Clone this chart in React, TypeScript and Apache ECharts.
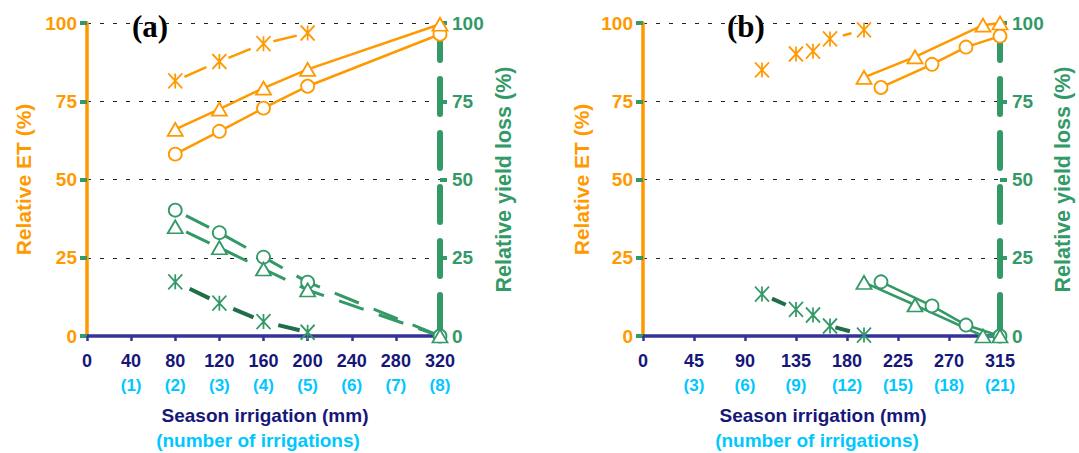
import React, { useEffect, useRef } from "react";
import * as echarts from "echarts";

// ---------- data ----------
// Panel (a)
const xTicksA = [0, 40, 80, 120, 160, 200, 240, 280, 320];
const irrigationsA = ["", "(1)", "(2)", "(3)", "(4)", "(5)", "(6)", "(7)", "(8)"];
const xA = [80, 120, 160, 200, 320];
const etCircleA = [58.1, 65.4, 72.8, 79.8, 96.4];
const etTriA = [66.0, 72.5, 79.2, 85.2, 99.6];
const xStarA = [80, 120, 160, 200];
const etStarA = [81.5, 87.7, 93.4, 96.8];
const lossCircleA = [40.2, 33.0, 25.2, 17.2, 0];
const lossTriA = [34.9, 28.2, 21.4, 14.7, 0];
const lossStarA = [17.3, 10.5, 4.6, 1.2];

// Panel (b)
const xTicksB = [0, 45, 90, 135, 180, 225, 270, 315];
const irrigationsB = ["", "(3)", "(6)", "(9)", "(12)", "(15)", "(18)", "(21)"];
const xCircleB = [210, 255, 285, 315];
const etCircleB = [79.4, 86.8, 92.3, 95.8];
const lossCircleB = [17.3, 9.6, 3.5, 0];
const xTriB = [195, 240, 300, 315];
const etTriB = [82.6, 89.2, 99.3, 100];
const lossTriB = [17.1, 9.9, 0, 0];
const xStarB = [105, 135, 150, 165, 195];
const etStarB = [85.0, 90.1, 91.0, 94.9, 97.8];
const lossStarB = [13.4, 8.5, 6.7, 3.2, 0.3];

const yTicks = [0, 25, 50, 75, 100];

// ---------- styles ----------
const ORANGE = "#FF9900";
const GREEN = "#339966";
const NAVY_LINE = "#333399";
const NAVY_TEXT = "#17177a";
const CYAN = "#00C8FF";
const FONT = "'Liberation Sans', Arial, sans-serif";
const STAR = "path://M0,-1 L0,1 M-1,-1 L1,1 M-1,1 L1,-1";

const zip = (xs: number[], ys: number[]) => xs.map((x, i) => [x, ys[i]]);

function xAxisCfg(gridIndex: number, ticks: number[], irr: string[]) {
  const step = ticks[1] - ticks[0];
  return {
    type: "value",
    gridIndex,
    min: ticks[0],
    max: ticks[ticks.length - 1],
    interval: step,
    axisLine: { show: true, onZero: false, lineStyle: { color: NAVY_LINE, width: 3.5 } },
    axisTick: { show: true, length: 5, lineStyle: { color: NAVY_LINE, width: 2.5 } },
    splitLine: { show: false },
    axisLabel: {
      margin: 12,
      formatter: (v: number) => {
        const i = ticks.indexOf(v);
        const sub = i >= 0 ? irr[i] : "";
        return sub ? `{a|${v}}\n{b|${sub}}` : `{a|${v}}`;
      },
      rich: {
        a: { fontFamily: FONT, fontWeight: "bold", fontSize: 18, color: NAVY_TEXT, lineHeight: 25 },
        b: { fontFamily: FONT, fontWeight: "bold", fontSize: 17, color: CYAN, lineHeight: 25 },
      },
    },
  };
}

function yAxesCfg(gridIndex: number, leftGap: number, rightGap: number) {
  const base = { type: "value", gridIndex, min: yTicks[0], max: yTicks[yTicks.length - 1], interval: 25 };
  return [
    {
      ...base,
      position: "left",
      name: "Relative ET (%)",
      nameLocation: "middle",
      nameGap: leftGap,
      nameTextStyle: { color: ORANGE, fontFamily: FONT, fontWeight: "bold", fontSize: 21 },
      axisLine: { show: true, onZero: false, lineStyle: { color: ORANGE, width: 3.5 } },
      axisTick: { show: true, length: 6, lineStyle: { color: ORANGE, width: 3 } },
      axisLabel: { margin: 10, color: ORANGE, fontFamily: FONT, fontWeight: "bold", fontSize: 19 },
      splitLine: { show: true, lineStyle: { color: "#222", width: 1, type: [4, 9] } },
    },
    {
      ...base,
      position: "right",
      name: "Relative yield loss (%)",
      nameLocation: "middle",
      nameGap: rightGap,
      nameTextStyle: { color: GREEN, fontFamily: FONT, fontWeight: "bold", fontSize: 21.5 },
      axisLine: { show: true, onZero: false, lineStyle: { color: GREEN, width: 6, type: [35, 19], dashOffset: 48 } },
      axisTick: { show: true, length: 7, lineStyle: { color: GREEN, width: 4 } },
      axisLabel: { margin: 12, color: GREEN, fontFamily: FONT, fontWeight: "bold", fontSize: 19 },
      splitLine: { show: false },
    },
    {
      ...base,
      position: "right",
      axisLine: { show: false },
      axisTick: { show: true, inside: true, length: 7, lineStyle: { color: GREEN, width: 4 } },
      axisLabel: { show: false },
      splitLine: { show: false },
    },
  ];
}

function marker(kind: "circle" | "tri" | "star", color: string) {
  if (kind === "circle")
    return { symbol: "circle", symbolSize: 13, itemStyle: { color: "#fff", borderColor: color, borderWidth: 1.8 } };
  if (kind === "tri")
    return { symbol: "triangle", symbolSize: [15, 13], itemStyle: { color: "#fff", borderColor: color, borderWidth: 1.8 } };
  return { symbol: STAR, symbolSize: [14, 15], itemStyle: { color: "none", borderColor: color, borderWidth: 1.8 } };
}

function line(
  name: string,
  xi: number,
  yi: number,
  data: number[][],
  kind: "circle" | "tri" | "star",
  color: string,
  lineStyle: any
) {
  return {
    type: "line",
    name,
    xAxisIndex: xi,
    yAxisIndex: yi,
    data,
    ...marker(kind, color),
    showSymbol: true,
    lineStyle: { color, ...lineStyle },
  };
}

export default function App() {
  const ref = useRef<HTMLDivElement>(null);
  useEffect(() => {
    if (!ref.current) return;
    const chart = echarts.init(ref.current, undefined, { renderer: "svg" });
    const option: any = {
      animation: false,
      backgroundColor: "#fff",
      grid: [
        { left: 87, top: 23, width: 353, height: 313, containLabel: false },
        { left: 643, top: 23, width: 357, height: 313, containLabel: false },
      ],
      xAxis: [xAxisCfg(0, xTicksA, irrigationsA), xAxisCfg(1, xTicksB, irrigationsB)],
      yAxis: [...yAxesCfg(0, 53, 53), ...yAxesCfg(1, 51, 52)],
      series: [
        // panel (a) – relative ET
        line("ET circle a", 0, 0, zip(xA, etCircleA), "circle", ORANGE, { width: 2.5 }),
        line("ET tri a", 0, 0, zip(xA, etTriA), "tri", ORANGE, { width: 2.5 }),
        line("ET star a", 0, 0, zip(xStarA, etStarA), "star", ORANGE, { width: 2.5, type: [24, 24], dashOffset: 38 }),
        // panel (a) – relative yield loss
        line("loss circle a", 0, 1, zip(xA, lossCircleA), "circle", GREEN, { width: 3, type: [26, 16], dashOffset: 30 }),
        line("loss tri a", 0, 1, zip(xA, lossTriA), "tri", GREEN, { width: 3, type: [26, 16], dashOffset: 30 }),
        line("loss star a", 0, 1, zip(xStarA, lossStarA), "star", GREEN, { width: 4, color: "#1f6e47", type: [22, 26], dashOffset: 32 }),
        // panel (b) – relative ET
        line("ET circle b", 1, 3, zip(xCircleB, etCircleB), "circle", ORANGE, { width: 2.5 }),
        line("ET tri b", 1, 3, zip(xTriB, etTriB), "tri", ORANGE, { width: 2.5 }),
        line("ET star b", 1, 3, zip(xStarB, etStarB), "star", ORANGE, { width: 2.5, type: [9, 200], dashOffset: 120 }),
        // panel (b) – relative yield loss
        line("loss circle b", 1, 4, zip(xCircleB, lossCircleB), "circle", GREEN, { width: 2.5 }),
        line("loss tri b", 1, 4, zip(xTriB, lossTriB), "tri", GREEN, { width: 2.5 }),
        line("loss star b", 1, 4, zip(xStarB, lossStarB), "star", GREEN, { width: 4, color: "#1f6e47", type: [15, 55], dashOffset: 59 }),
      ],
      graphic: [
        { type: "text", left: 132, top: 11, style: { text: "(a)", font: "bold 31px 'Liberation Serif', 'Times New Roman', serif", fill: "#000" } },
        { type: "text", left: 727, top: 11, style: { text: "(b)", font: "bold 31px 'Liberation Serif', 'Times New Roman', serif", fill: "#000" } },
        { type: "text", x: 265, y: 415, style: { text: "Season irrigation (mm)", font: `bold 19px ${FONT}`, fill: NAVY_TEXT, align: "center", verticalAlign: "middle" } },
        { type: "text", x: 258, y: 440, style: { text: "(number of irrigations)", font: `bold 19px ${FONT}`, fill: CYAN, align: "center", verticalAlign: "middle" } },
        { type: "text", x: 823, y: 415, style: { text: "Season irrigation (mm)", font: `bold 19px ${FONT}`, fill: NAVY_TEXT, align: "center", verticalAlign: "middle" } },
        { type: "text", x: 817, y: 440, style: { text: "(number of irrigations)", font: `bold 19px ${FONT}`, fill: CYAN, align: "center", verticalAlign: "middle" } },
      ],
    };
    chart.setOption(option);
    return () => chart.dispose();
  }, []);
  return <div ref={ref} style={{ position: "fixed", left: 0, top: 0, width: 1079, height: 453 }} />;
}
